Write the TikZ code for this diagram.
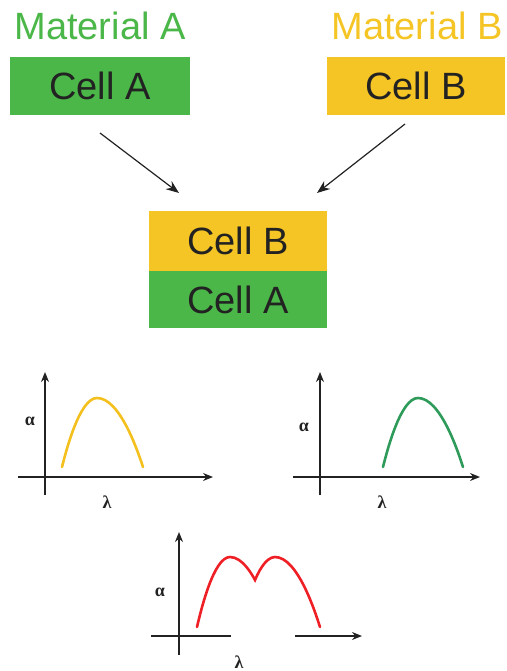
\documentclass[tikz,border=0pt]{standalone}
\usepackage{fontspec}
\setmainfont{Liberation Sans}
\newfontfamily\greekfont{Liberation Serif}
\usetikzlibrary{arrows.meta}

\definecolor{matgreen}{HTML}{4BB748}
\definecolor{matyellow}{HTML}{F5C525}
\definecolor{curveyellow}{HTML}{F3C01E}
\definecolor{curvegreen}{HTML}{2F9B5A}
\definecolor{curvered}{HTML}{EE1F25}
\definecolor{inkgray}{HTML}{222222}

\tikzset{
  mattext/.style={font=\fontsize{38}{40}\selectfont, anchor=base, inner sep=0pt},
  cell/.style={minimum width=178pt, inner sep=0pt, text=inkgray,
               font=\fontsize{38}{40}\selectfont},
  axis/.style={line width=1.3pt, inkgray, -{Stealth[length=10pt,width=8pt]}},
  arr/.style={line width=1.2pt, inkgray, -{Stealth[length=13pt,width=10pt]}},
  sym/.style={font=\greekfont\bfseries\fontsize{18}{18}\selectfont, inkgray, inner sep=0pt},
  spec/.style={line width=2.6pt, line cap=round}
}

\begin{document}
\begin{tikzpicture}[x=1pt, y=-1pt]
\useasboundingbox (0,0) rectangle (506,671);

% materials and single cells
\node[mattext, text=matgreen] (matA) at (100,40) {Material A};
\node[mattext, text=matyellow] (matB) at (417,40) {Material B};
\node[cell, fill=matgreen, minimum width=180pt, minimum height=58pt] (cellA) at (100,86) {Cell A};
\node[cell, fill=matyellow, minimum height=58pt] (cellB) at (416,86) {Cell B};

% tandem stack
\node[cell, fill=matyellow, minimum height=60pt] (stackB) at (238,241) {Cell B};
\node[cell, fill=matgreen, minimum height=57pt, anchor=north] (stackA) at (stackB.south) {Cell A};

\coordinate (fromA) at (100,133);
\coordinate (fromB) at (405,124);
\coordinate (toA) at (179,193);
\coordinate (toB) at (317,193);
\draw[arr] (fromA) -- (toA);
\draw[arr] (fromB) -- (toB);

% single junction spectra
\foreach \ox/\len in {45/168, 320/160}{
  \draw[axis] (\ox,495) -- (\ox,372);
  \draw[axis] (\ox-27,477) -- (\ox+\len,477);
}
\node[sym] (alphaA) at (30,421) {α};
\node[sym] (lambdaA) at (107,502) {λ};
\node[sym] (alphaB) at (304,427) {α};
\node[sym] (lambdaB) at (382,502) {λ};
\draw[spec, curveyellow] (62,467) parabola bend (97,398) (143,467);
\draw[spec, curvegreen] (383,467) parabola bend (418,398) (463,467);

% tandem spectrum
\draw[axis] (179,655) -- (179,532);
\draw[line width=1.3pt, inkgray] (151,636) -- (231,636);
\draw[axis] (295,636) -- (362,636);
\node[sym] (alphaC) at (160,592) {α};
\node[sym] (lambdaC) at (239,662) {λ};
\draw[spec, curvered] (197,627) parabola bend (230,557) (255,580)
  parabola bend (275,557) (320,627);
\end{tikzpicture}
\end{document}
